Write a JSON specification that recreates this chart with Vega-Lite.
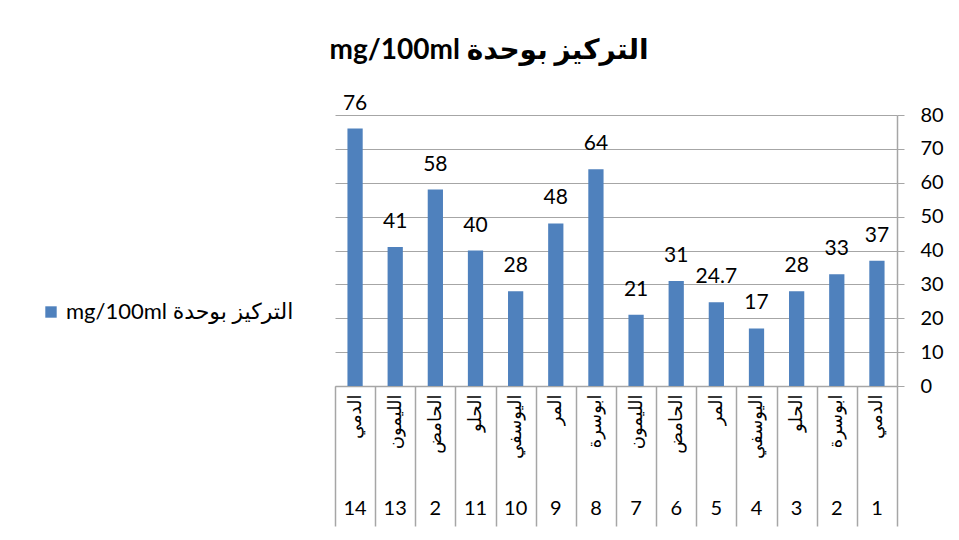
{
  "$schema": "https://vega.github.io/schema/vega-lite/v6.json",
  "width": 562,
  "height": 271,
  "autosize": {"type": "none"},
  "padding": {"left": 335, "top": 115, "right": 62, "bottom": 154},
  "background": "white",
  "config": {"view": {"stroke": null}, "font": "Lato, DejaVu Sans"},
  "title": {
    "text": "mg/100ml التركيز بوحدة",
    "font": "Lato, DejaVu Sans",
    "fontSize": 28,
    "fontWeight": "bold",
    "color": "#000000",
    "anchor": "middle",
    "frame": "group",
    "dx": -127,
    "offset": 28
  },
  "data": {
    "values": [
      {"label": "14|الدمي", "value": 76},
      {"label": "13|الليمون", "value": 41},
      {"label": "2|الحامض", "value": 58},
      {"label": "11|الحلو", "value": 40},
      {"label": "10|اليوسفي", "value": 28},
      {"label": "9|المر", "value": 48},
      {"label": "8|ابوسرة", "value": 64},
      {"label": "7|الليمون", "value": 21},
      {"label": "6|الحامض", "value": 31},
      {"label": "5|المر", "value": 24.7},
      {"label": "4|اليوسفي", "value": 17},
      {"label": "3|الحلو", "value": 28},
      {"label": "2|ابوسرة", "value": 33},
      {"label": "1|الدمي", "value": 37}
    ]
  },
  "layer": [
    {
      "mark": {"type": "bar", "width": {"band": 0.38}, "color": "#4f81bd"},
      "encoding": {
        "x": {
          "field": "label",
          "type": "nominal",
          "sort": null,
          "scale": {"paddingInner": 0, "paddingOuter": 0},
          "axis": {
            "orient": "bottom",
            "title": null,
            "labelExpr": "split(datum.value,'|')[1]",
            "labelAngle": 270,
            "labelFont": "DejaVu Sans",
            "labelFontSize": 18,
            "labelColor": "#000000",
            "labelPadding": -132,
            "tickBand": "extent",
            "tickSize": 140,
            "tickColor": "#a6a6a6",
            "tickWidth": 1.5,
            "domainColor": "#a6a6a6",
            "domainWidth": 1.5
          }
        },
        "y": {
          "field": "value",
          "type": "quantitative",
          "scale": {"domain": [0, 80], "nice": false},
          "axis": {
            "orient": "right",
            "values": [0, 10, 20, 30, 40, 50, 60, 70, 80],
            "labelOverlap": false,
            "title": null,
            "grid": true,
            "gridColor": "#a6a6a6",
            "gridWidth": 1,
            "domainColor": "#a6a6a6",
            "domainWidth": 1.5,
            "tickColor": "#a6a6a6",
            "tickSize": 7,
            "labelFont": "Lato",
            "labelFontSize": 20,
            "labelColor": "#000000",
            "labelPadding": 16
          }
        },
        "color": {
          "datum": "mg/100ml التركيز بوحدة",
          "scale": {"range": ["#4f81bd"]},
          "legend": {
            "orient": "none",
            "legendX": -295,
            "legendY": 186,
            "title": null,
            "symbolType": "square",
            "symbolSize": 130,
            "symbolStrokeWidth": 0,
            "labelFont": "Lato, DejaVu Sans",
            "labelFontSize": 22,
            "labelColor": "#000000",
            "labelLimit": 400
          }
        }
      }
    },
    {
      "mark": {"type": "text", "baseline": "alphabetic", "dy": -19, "fontSize": 21, "font": "Lato", "color": "#000000"},
      "encoding": {
        "x": {
          "field": "label",
          "type": "nominal",
          "sort": null,
          "axis": {
            "orient": "bottom",
            "title": null,
            "labelExpr": "split(datum.value,'|')[0]",
            "labelAngle": 0,
            "ticks": false,
            "domain": false,
            "labelFont": "Lato",
            "labelFontSize": 20,
            "labelColor": "#000000",
            "labelPadding": 112
          }
        },
        "y": {
          "field": "value",
          "type": "quantitative",
          "scale": {"domain": [0, 80], "nice": false},
          "axis": {
            "orient": "right",
            "values": [0, 10, 20, 30, 40, 50, 60, 70, 80],
            "labelOverlap": false,
            "title": null,
            "grid": true,
            "gridColor": "#a6a6a6",
            "gridWidth": 1,
            "domainColor": "#a6a6a6",
            "domainWidth": 1.5,
            "tickColor": "#a6a6a6",
            "tickSize": 7,
            "labelFont": "Lato",
            "labelFontSize": 20,
            "labelColor": "#000000",
            "labelPadding": 16
          }
        },
        "text": {"field": "value", "type": "quantitative"}
      }
    }
  ],
  "resolve": {"axis": {"x": "independent"}}
}
